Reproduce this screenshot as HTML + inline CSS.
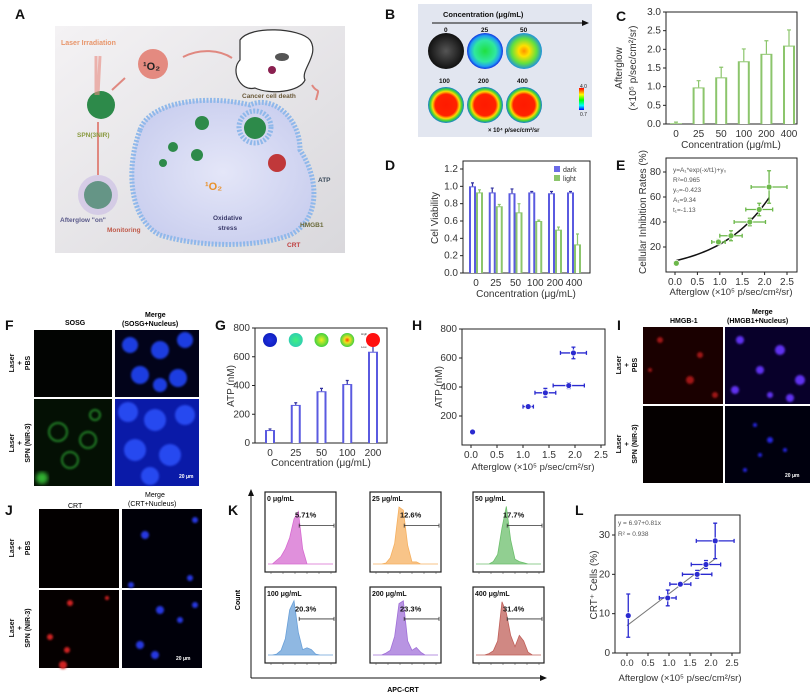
<!DOCTYPE html>
<html><head><meta charset="utf-8"><style>
html,body{margin:0;padding:0;background:#fff;}
svg{display:block;font-family:"Liberation Sans",Arial,sans-serif;}
</style></head><body>
<svg id="fig" width="812" height="697" viewBox="0 0 812 697" xmlns="http://www.w3.org/2000/svg">
<defs>
<filter id="blur2"><feGaussianBlur stdDeviation="2"/></filter>
<filter id="blur1"><feGaussianBlur stdDeviation="1"/></filter>
<linearGradient id="abg" x1="0" y1="0" x2="1" y2="1"><stop offset="0" stop-color="#f4f2f4"/><stop offset="1" stop-color="#d9d8dc"/></linearGradient>
<radialGradient id="hot" r="0.5"><stop offset="0" stop-color="#ff1a00"/><stop offset="0.6" stop-color="#ff2200"/><stop offset="0.75" stop-color="#ffd800"/><stop offset="0.88" stop-color="#3cd23c"/><stop offset="1" stop-color="#1a7ad8"/></radialGradient>
<radialGradient id="c25" r="0.5"><stop offset="0" stop-color="#20e040"/><stop offset="0.6" stop-color="#30e8a0"/><stop offset="0.85" stop-color="#20a0f0"/><stop offset="1" stop-color="#1030e0"/></radialGradient>
<radialGradient id="c50" r="0.5"><stop offset="0" stop-color="#ff9000"/><stop offset="0.3" stop-color="#ffe000"/><stop offset="0.7" stop-color="#60e040"/><stop offset="1" stop-color="#2090e0"/></radialGradient>
<radialGradient id="c0" r="0.5"><stop offset="0" stop-color="#555"/><stop offset="1" stop-color="#111"/></radialGradient>
<radialGradient id="g0" r="0.5"><stop offset="0" stop-color="#2030e0"/><stop offset="1" stop-color="#1020c0"/></radialGradient>
<radialGradient id="g1" r="0.5"><stop offset="0" stop-color="#40f080"/><stop offset="1" stop-color="#30d0b0"/></radialGradient>
<radialGradient id="g2" r="0.5"><stop offset="0" stop-color="#f0f020"/><stop offset="1" stop-color="#40d040"/></radialGradient>
<radialGradient id="g3" r="0.5"><stop offset="0" stop-color="#ff4000"/><stop offset="0.4" stop-color="#f0e020"/><stop offset="1" stop-color="#40d040"/></radialGradient>
<linearGradient id="cbar" x1="0" y1="0" x2="0" y2="1"><stop offset="0" stop-color="#f00"/><stop offset="0.3" stop-color="#ff0"/><stop offset="0.55" stop-color="#0f0"/><stop offset="0.8" stop-color="#0ff"/><stop offset="1" stop-color="#00f"/></linearGradient>
<radialGradient id="cellbg" r="0.6"><stop offset="0" stop-color="#e4e6f8"/><stop offset="1" stop-color="#c8cdee"/></radialGradient>
</defs>

<g font-weight="bold" font-size="14" fill="#111">
<text x="15" y="19">A</text><text x="385" y="19">B</text><text x="616" y="21">C</text>
<text x="385" y="170">D</text><text x="616" y="170">E</text>
<text x="5" y="330">F</text><text x="215" y="330">G</text><text x="412" y="330">H</text><text x="617" y="330">I</text>
<text x="5" y="515">J</text><text x="228" y="515">K</text><text x="575" y="515">L</text>
</g>

<g>
<rect x="55" y="26" width="290" height="227" fill="url(#abg)"/>
<path d="M140,130 C150,100 210,95 250,105 C270,95 300,115 300,150 C320,180 320,220 290,235 C250,250 190,245 160,235 C130,220 125,170 140,130Z" fill="url(#cellbg)" stroke="#8fb8ea" stroke-width="5" stroke-dasharray="2 1.5"/>
<circle cx="255" cy="127" r="16" fill="none" stroke="#8fb8ea" stroke-width="5" stroke-dasharray="2 1.5"/>
<circle cx="255" cy="128" r="11" fill="#2d8a4a"/>
<circle cx="101" cy="105" r="14" fill="#2d8a4a"/>
<circle cx="98" cy="195" r="14" fill="#2d8a4a"/>
<circle cx="98" cy="195" r="20" fill="#b9a6e0" opacity="0.4"/>
<circle cx="202" cy="123" r="7" fill="#2d8a4a"/><circle cx="173" cy="147" r="5" fill="#2d8a4a"/><circle cx="197" cy="155" r="6" fill="#2d8a4a"/><circle cx="163" cy="163" r="4" fill="#2d8a4a"/>
<circle cx="153" cy="64" r="15" fill="#e48a80"/>
<text x="143" y="70" font-size="11" font-weight="bold" fill="#222">¹O₂</text>
<circle cx="277" cy="163" r="9" fill="#c0383a"/>
<path d="M240,40 C250,25 300,28 310,40 C320,55 300,70 305,80 C300,92 270,95 255,88 C240,92 230,70 240,60Z" fill="#fff" stroke="#333" stroke-width="1.2"/>
<ellipse cx="282" cy="57" rx="7" ry="4" fill="#555"/><circle cx="272" cy="70" r="4" fill="#8a2050"/>
<path d="M100,56 L98,95 M96,56 L96,95" stroke="#e88a80" stroke-width="3" opacity="0.6"/>
<path d="M183,57 C200,48 220,50 232,58" stroke="#e08880" stroke-width="2" fill="none"/>
<path d="M112,90 L125,78" stroke="#e08880" stroke-width="2"/>
<path d="M98,122 L98,175" stroke="#e08880" stroke-width="2"/>
<path d="M316,100 C320,85 318,95 312,85" stroke="#e08880" stroke-width="2" fill="none"/>
<text x="61" y="45" font-size="7" font-weight="bold" fill="#e8956a">Laser Irradiation</text>
<text x="77" y="137" font-size="6.5" font-weight="bold" fill="#8a9a40">SPN(3NIR)</text>
<text x="60" y="222" font-size="6.5" font-weight="bold" fill="#5a5a8a">Afterglow "on"</text>
<text x="107" y="232" font-size="6.5" font-weight="bold" fill="#c05a4a">Monitoring</text>
<text x="242" y="98" font-size="6.5" font-weight="bold" fill="#6a5a3a">Cancer cell death</text>
<text x="205" y="190" font-size="11" font-weight="bold" fill="#e8902a">¹O₂</text>
<text x="213" y="220" font-size="6.5" font-weight="bold" fill="#3a3a6a">Oxidative</text>
<text x="218" y="230" font-size="6.5" font-weight="bold" fill="#3a3a6a">stress</text>
<text x="318" y="182" font-size="6.5" font-weight="bold" fill="#3a4a5a">ATP</text>
<text x="300" y="227" font-size="6.5" font-weight="bold" fill="#6a6a3a">HMGB1</text>
<text x="287" y="247" font-size="6.5" font-weight="bold" fill="#c04040">CRT</text>
</g>

<g>
<rect x="418" y="4" width="174" height="133" fill="#e2e6f0"/>
<text x="443" y="17" font-size="7.5" font-weight="bold" fill="#111">Concentration (μg/mL)</text>
<line x1="432" y1="23" x2="585" y2="23" stroke="#111"/>
<path d="M582,20 L589,23 L582,26Z" fill="#111"/>
<g font-size="6.5" font-weight="bold" fill="#111">
<text x="444" y="32">0</text><text x="481" y="32">25</text><text x="520" y="32">50</text>
<text x="439" y="83">100</text><text x="478" y="83">200</text><text x="517" y="83">400</text></g>
<circle cx="446" cy="51" r="18" fill="url(#c0)"/><circle cx="485" cy="51" r="18" fill="url(#c25)"/><circle cx="524" cy="51" r="18" fill="url(#c50)"/>
<circle cx="446" cy="105" r="18" fill="url(#hot)"/><circle cx="485" cy="105" r="18" fill="url(#hot)"/><circle cx="524" cy="105" r="18" fill="url(#hot)"/>
<rect x="579" y="88" width="5" height="22" fill="url(#cbar)"/>
<text x="580" y="88" font-size="5" fill="#222">4.0</text><text x="580" y="116" font-size="5" fill="#222">0.7</text>
<text x="488" y="132" font-size="6" font-weight="bold" fill="#111">× 10⁴ p/sec/cm²/sr</text>
</g>

<g>
<text x="65" y="325" font-size="7" font-weight="bold">SOSG</text>
<text x="145" y="317" font-size="7" font-weight="bold">Merge</text>
<text x="122" y="326" font-size="7" font-weight="bold">(SOSG+Nucleus)</text>
<rect x="34" y="330" width="78" height="67" fill="#020402"/>
<rect x="115" y="330" width="84" height="67" fill="#02031a"/>
<rect x="34" y="399" width="78" height="87" fill="#041004"/>
<rect x="115" y="399" width="84" height="87" fill="#0a1aa8"/>
<g fill="#1f3de0" filter="url(#blur1)"><circle cx="130" cy="345" r="8"/><circle cx="160" cy="350" r="9"/><circle cx="185" cy="340" r="8"/><circle cx="140" cy="375" r="9"/><circle cx="178" cy="378" r="9"/><circle cx="160" cy="385" r="7"/></g>
<g fill="#2848f0" filter="url(#blur1)"><circle cx="128" cy="412" r="10"/><circle cx="155" cy="420" r="11"/><circle cx="185" cy="415" r="10"/><circle cx="135" cy="450" r="11"/><circle cx="170" cy="455" r="11"/><circle cx="150" cy="476" r="9"/></g>
<g fill="none" stroke="#2aa030" stroke-width="2" filter="url(#blur1)" opacity="0.8"><circle cx="58" cy="432" r="9"/><circle cx="88" cy="440" r="8"/><circle cx="70" cy="460" r="8"/><circle cx="95" cy="415" r="5"/></g>
<circle cx="42" cy="478" r="6" fill="#30b030" filter="url(#blur2)"/>
<g font-size="7" font-weight="bold" fill="#111">
<text transform="translate(14,363) rotate(-90)" text-anchor="middle">Laser</text>
<text transform="translate(22,363) rotate(-90)" text-anchor="middle">+</text>
<text transform="translate(30,363) rotate(-90)" text-anchor="middle">PBS</text>
<text transform="translate(14,443) rotate(-90)" text-anchor="middle">Laser</text>
<text transform="translate(22,443) rotate(-90)" text-anchor="middle">+</text>
<text transform="translate(30,443) rotate(-90)" text-anchor="middle">SPN (NIR-3)</text></g>
<text x="179" y="478" font-size="5" font-weight="bold" fill="#fff">20 μm</text>
</g>

<g>
<text x="68" y="508" font-size="7">CRT</text>
<text x="145" y="497" font-size="7">Merge</text>
<text x="128" y="506" font-size="7">(CRT+Nucleus)</text>
<rect x="39" y="509" width="80" height="79" fill="#030000"/>
<rect x="122" y="509" width="80" height="79" fill="#000008"/>
<rect x="39" y="590" width="80" height="78" fill="#050000"/>
<rect x="122" y="590" width="80" height="78" fill="#00000a"/>
<g fill="#2838e0" filter="url(#blur1)"><circle cx="145" cy="535" r="4"/><circle cx="195" cy="520" r="3"/><circle cx="131" cy="585" r="3"/><circle cx="190" cy="578" r="3"/><circle cx="160" cy="610" r="4"/><circle cx="180" cy="620" r="3"/><circle cx="140" cy="645" r="4"/><circle cx="155" cy="655" r="4"/><circle cx="195" cy="605" r="3"/></g>
<g fill="#d02020" filter="url(#blur1)"><circle cx="70" cy="603" r="3"/><circle cx="50" cy="637" r="3"/><circle cx="67" cy="650" r="3"/><circle cx="63" cy="665" r="4"/><circle cx="107" cy="598" r="2"/></g>
<g font-size="7" font-weight="bold" fill="#111">
<text transform="translate(14,548) rotate(-90)" text-anchor="middle">Laser</text>
<text transform="translate(22,548) rotate(-90)" text-anchor="middle">+</text>
<text transform="translate(30,548) rotate(-90)" text-anchor="middle">PBS</text>
<text transform="translate(14,628) rotate(-90)" text-anchor="middle">Laser</text>
<text transform="translate(22,628) rotate(-90)" text-anchor="middle">+</text>
<text transform="translate(30,628) rotate(-90)" text-anchor="middle">SPN (NIR-3)</text></g>
<text x="176" y="660" font-size="5" font-weight="bold" fill="#fff">20 μm</text>
</g>

<g>
<text x="670" y="323" font-size="7" font-weight="bold">HMGB-1</text>
<text x="752" y="314" font-size="7" font-weight="bold">Merge</text>
<text x="727" y="323" font-size="7" font-weight="bold">(HMGB1+Nucleus)</text>
<rect x="643" y="327" width="80" height="77" fill="#1a0000"/>
<rect x="725" y="327" width="85" height="77" fill="#08002a"/>
<rect x="643" y="406" width="80" height="77" fill="#050000"/>
<rect x="725" y="406" width="85" height="77" fill="#00000e"/>
<g fill="#a01818" filter="url(#blur1)"><circle cx="660" cy="340" r="3"/><circle cx="700" cy="355" r="3"/><circle cx="690" cy="380" r="4"/><circle cx="715" cy="395" r="3"/><circle cx="650" cy="370" r="2"/></g>
<g fill="#6030f0" filter="url(#blur1)"><circle cx="740" cy="340" r="4"/><circle cx="780" cy="350" r="5"/><circle cx="760" cy="370" r="4"/><circle cx="800" cy="380" r="5"/><circle cx="735" cy="390" r="4"/><circle cx="790" cy="398" r="4"/><circle cx="770" cy="395" r="3"/></g>
<g fill="#2828e0" filter="url(#blur1)"><circle cx="755" cy="425" r="2"/><circle cx="770" cy="440" r="3"/><circle cx="760" cy="455" r="2"/><circle cx="785" cy="450" r="2"/><circle cx="745" cy="470" r="2"/></g>
<g font-size="7" font-weight="bold" fill="#111">
<text transform="translate(621,365) rotate(-90)" text-anchor="middle">Laser</text>
<text transform="translate(629,365) rotate(-90)" text-anchor="middle">+</text>
<text transform="translate(637,365) rotate(-90)" text-anchor="middle">PBS</text>
<text transform="translate(621,444) rotate(-90)" text-anchor="middle">Laser</text>
<text transform="translate(629,444) rotate(-90)" text-anchor="middle">+</text>
<text transform="translate(637,444) rotate(-90)" text-anchor="middle">SPN (NIR-3)</text></g>
<text x="785" y="477" font-size="5" font-weight="bold" fill="#fff">20 μm</text>
</g>

<g>
<line x1="251" y1="678" x2="251" y2="492" stroke="#111"/>
<path d="M248,496 L251,489 L254,496Z" fill="#111"/>
<line x1="251" y1="678" x2="542" y2="678" stroke="#111"/>
<path d="M540,675 L547,678 L540,681Z" fill="#111"/>
<text transform="translate(240,600) rotate(-90)" text-anchor="middle" font-size="7" font-weight="bold">Count</text>
<text x="403" y="692" text-anchor="middle" font-size="7" font-weight="bold">APC-CRT</text>
</g>
<g id="kgroup"></g>
</svg>
<script>
const cCats = ['0','25','50','100','200','400'];
const cVals = [0.02, 0.98, 1.25, 1.68, 1.88, 2.1];
const cErr = [0.03, 0.18, 0.27, 0.33, 0.35, 0.42];
const cTicks = [0, 0.5, 1.0, 1.5, 2.0, 2.5, 3.0];

const dCats = ['0','25','50','100','200','400'];
const dDark = [1.0, 0.93, 0.92, 0.93, 0.92, 0.93];
const dDarkErr = [0.04, 0.05, 0.05, 0.01, 0.02, 0.01];
const dLight = [0.93, 0.77, 0.70, 0.60, 0.50, 0.33];
const dLightErr = [0.03, 0.02, 0.10, 0.01, 0.03, 0.12];
const dTicks = [0, 0.2, 0.4, 0.6, 0.8, 1.0, 1.2];

const eX = [0.03, 0.97, 1.25, 1.67, 1.88, 2.1];
const eY = [7, 24, 29, 40, 50, 68];
const eXErr = [0.05, 0.15, 0.25, 0.35, 0.3, 0.4];
const eYErr = [1, 2, 4, 3, 5, 13];
const eFit = [9.34, -1.13, -0.423];
const eXTicks = [0, 0.5, 1.0, 1.5, 2.0, 2.5];
const eYTicks = [20, 40, 60, 80];

const gCats = ['0','25','50','100','200'];
const gVals = [90, 265, 360, 410, 635];
const gErr = [8, 15, 20, 25, 40];
const gTicks = [0, 200, 400, 600, 800];

const hX = [0.03, 1.1, 1.43, 1.88, 1.97];
const hY = [90, 265, 360, 410, 635];
const hXErr = [0.02, 0.1, 0.2, 0.3, 0.25];
const hYErr = [8, 15, 30, 20, 40];
const hXTicks = [0, 0.5, 1.0, 1.5, 2.0, 2.5];
const hYTicks = [200, 400, 600, 800];

const lX = [0.03, 0.97, 1.27, 1.67, 1.88, 2.1];
const lY = [9.5, 14, 17.5, 20, 22.5, 28.5];
const lXErr = [0.0, 0.2, 0.25, 0.35, 0.35, 0.45];
const lYErr = [5.5, 2, 0.5, 1, 1, 4.5];
const lFit = [6.97, 8.1];
const lXTicks = [0, 0.5, 1.0, 1.5, 2.0, 2.5];
const lYTicks = [0, 10, 20, 30];

const kLabels = ['0 μg/mL','25 μg/mL','50 μg/mL','100 μg/mL','200 μg/mL','400 μg/mL'];
const kPercents = ['5.71%','12.6%','17.7%','20.3%','23.3%','31.4%'];
const kHist0 = [0,0,1,2,4,7,12,14,4,0,0,0,0,0,0,0];
const kHist1 = [0,0,0,1,6,20,55,52,18,2,2,0,0,0,0,0];
const kHist2 = [0,0,0,0,2,8,30,48,20,4,2,1,0,0,0,0];
const kHist3 = [0,0,1,5,18,50,60,25,6,8,6,1,0,0,0,0];
const kHist4 = [0,0,0,2,5,20,55,58,15,5,8,3,0,0,0,0];
const kHist5 = [0,0,0,1,3,10,38,30,14,6,14,10,2,0,0,0];
const kMax = [16, 58, 50, 62, 60, 40];

const NS = 'http://www.w3.org/2000/svg';
const svg = document.getElementById('fig');
function el(tag, a, parent){const e=document.createElementNS(NS,tag);for(const k in a)e.setAttribute(k,a[k]);(parent||svg).appendChild(e);return e;}
function txt(x,y,s,a,parent){const t=el('text',Object.assign({x:x,y:y},a||{}),parent);t.textContent=s;return t;}
function lin(d0,d1,r0,r1){return v=>r0+(v-d0)/(d1-d0)*(r1-r0);}
function fmt(v,dec){return v.toFixed(dec);}

function frame(x0,y0,x1,y1,name){
  const r=el('rect',{x:x0,y:y0,width:x1-x0,height:y1-y0,fill:'none',stroke:'#222','stroke-width':1});
  
  
}
function yTicks(ticks,ys,x0,dec,fs){
  ticks.forEach(v=>{
    const l=el('line',{x1:x0-3,x2:x0,y1:ys(v),y2:ys(v),stroke:'#222'});
    
    
    const t=txt(x0-5,ys(v)+3,fmt(v,dec),{'font-size':fs||10,'text-anchor':'end',fill:'#333'});
    
    
  });
}
function xTicks(ticks,xs,y0,dec,fs){
  ticks.forEach(v=>{
    const l=el('line',{x1:xs(v),x2:xs(v),y1:y0,y2:y0+3,stroke:'#222'});
    
    
    const t=txt(xs(v),y0+13,fmt(v,dec),{'font-size':fs||10,'text-anchor':'middle',fill:'#333'});
    
    
  });
}
function xCats(cats,xc,y0,fs){
  cats.forEach((c,i)=>{
    const t=txt(xc(i),y0+13,c,{'font-size':fs||10,'text-anchor':'middle',fill:'#333'});
    
    
  });
}
function hollowBar(cx,w,ytop,ybot,col,name){
  const g=el('g',{});
  
  
  el('rect',{x:cx-w/2,y:ytop,width:w,height:ybot-ytop,fill:col},g);
  if(w>4) el('rect',{x:cx-w/2+2,y:ytop+1,width:w-4,height:Math.max(0,ybot-ytop-1),fill:'#fff'},g);
}
function errV(cx,y0,y1,col,cap){
  const l=el('path',{d:`M${cx},${y0}V${y1}M${cx-cap},${y1}H${cx+cap}`,stroke:col,'stroke-width':1.2,fill:'none'});
  
  
}
function xyPoint(xs,ys,x,y,xe,ye,col,r){
  const p=el('path',{d:`M${xs(x-xe)},${ys(y)}H${xs(x+xe)}M${xs(x-xe)},${ys(y)-2}V${ys(y)+2}M${xs(x+xe)},${ys(y)-2}V${ys(y)+2}M${xs(x)},${ys(y-ye)}V${ys(y+ye)}M${xs(x)-2},${ys(y-ye)}H${xs(x)+2}M${xs(x)-2},${ys(y+ye)}H${xs(x)+2}`,stroke:col,'stroke-width':1.3,fill:'none'});
  
  
  const c=el('circle',{cx:xs(x),cy:ys(y),r:r,fill:col,stroke:'#fff','stroke-width':0.8});
  
  
}
function rotLabel(x,y,s,fs,name){
  const t=el('text',{transform:`translate(${x},${y}) rotate(-90)`,'text-anchor':'middle','font-size':fs,fill:'#333'});
  t.textContent=s;
  
  
  return t;
}

(function(){
  const ys=lin(0,3,124,12);
  const xc=i=>676+i*(789-676)/5;
  frame(666,12,797,124,'chart-c-frame');
  yTicks(cTicks,ys,666,1,10);
  xCats(cCats,xc,124,10);
  cVals.forEach((v,i)=>{
    hollowBar(xc(i),12,ys(v),124,'#8cc56c','bar-afterglow');
    errV(xc(i),ys(v),ys(v+cErr[i]),'#8cc56c',2);
  });
  rotLabel(622,68,'Afterglow',10,'y-axis-title');
  rotLabel(636,68,'(×10⁵ p/sec/cm²/sr)',10,'y-axis-title-units');
  const t=txt(731,148,'Concentration (μg/mL)',{'font-size':10,'text-anchor':'middle',fill:'#333'});
  
  
})();

(function(){
  const ys=lin(0,1.2,273,169);
  const xc=i=>i<5?476+i*19.75:574;
  frame(463,161,590,273,'chart-d-frame');
  yTicks(dTicks,ys,463,1,10);
  xCats(dCats,xc,273,10);
  dDark.forEach((v,i)=>{
    hollowBar(xc(i)-3.5,7,ys(v),273,'#5a5ae0','bar-dark');
    errV(xc(i)-3.5,ys(v),ys(v+dDarkErr[i]),'#3030a0',1.5);
  });
  dLight.forEach((v,i)=>{
    hollowBar(xc(i)+3.5,7,ys(v),273,'#8cc56c','bar-light');
    errV(xc(i)+3.5,ys(v),ys(v+dLightErr[i]),'#8cc56c',1.5);
  });
  const lg=el('g',{});
  
  
  el('rect',{x:554,y:166,width:6,height:6,fill:'#6a6ae8'},lg);
  txt(563,172,'dark',{'font-size':7,fill:'#333'},lg);
  el('rect',{x:554,y:175,width:6,height:6,fill:'#8cc56c'},lg);
  txt(563,181,'light',{'font-size':7,fill:'#333'},lg);
  rotLabel(438,218,'Cel Viability',10,'y-axis-title');
  const t=txt(526,297,'Concentration (μg/mL)',{'font-size':10,'text-anchor':'middle',fill:'#333'});
  
  
})();

(function(){
  const xs=lin(0,2.5,675,787), ys=lin(0,80,272,172);
  frame(666,158,797,272,'chart-e-frame');
  yTicks(eYTicks,ys,666,0,10);
  xTicks(eXTicks,xs,272,1,10);
  let d='';
  for(let k=0;k<=40;k++){const x=eX[0]+(eX[eX.length-1]-eX[0])*k/40;const y=eFit[0]*Math.exp(-x/eFit[1])+eFit[2];d+=(k?'L':'M')+xs(x)+','+ys(y);}
  const p=el('path',{d:d,stroke:'#111','stroke-width':1.5,fill:'none'});
  
  
  eX.forEach((x,i)=>xyPoint(xs,ys,x,eY[i],eXErr[i],eYErr[i],'#6cb84a',3));
  const lines=['y=A₁*exp(-x/t1)+y₀','R²=0.965','y₀=-0.423','A₁=9.34','t₁=-1.13'];
  lines.forEach((s,i)=>{const t=txt(673,172+i*10,s,{'font-size':6.5,fill:'#555'});
    
    });
  rotLabel(646,212,'Cellular Inhibition Rates (%)',10,'y-axis-title');
  const t=txt(731,295,'Afterglow (×10⁵ p/sec/cm²/sr)',{'font-size':9.5,'text-anchor':'middle',fill:'#333'});
  
  
})();

(function(){
  const ys=lin(0,800,443,328);
  const xc=i=>270+i*25.75;
  frame(255,328,387,443,'chart-g-frame');
  yTicks(gTicks,ys,255,0,10);
  xCats(gCats,xc,443,10);
  gVals.forEach((v,i)=>{
    hollowBar(xc(i),10,ys(v),443,'#5a5ae0','bar-atp');
    errV(xc(i),ys(v),ys(v+gErr[i]),'#3030a0',1.5);
  });
  const fills=['url(#g0)','url(#g1)','url(#g2)','url(#g3)','#ff1010'];
  fills.forEach((f,i)=>{const c=el('circle',{cx:xc(i),cy:340,r:7,fill:f});
    
    });
  txt(361,335,'High',{'font-size':3,fill:'#333'});
  txt(361,348,'Low',{'font-size':3,fill:'#333'});
  rotLabel(234,386,'ATP (nM)',10,'y-axis-title');
  const t=txt(321,466,'Concentration (μg/mL)',{'font-size':10,'text-anchor':'middle',fill:'#333'});
  
  
})();

(function(){
  const xs=lin(0,2.5,471,601), ys=lin(0,800,445,329);
  frame(462,329,605,445,'chart-h-frame');
  yTicks(hYTicks,ys,462,0,10);
  xTicks(hXTicks,xs,445,1,10);
  hX.forEach((x,i)=>xyPoint(xs,ys,x,hY[i],hXErr[i],hYErr[i],'#2a2ad0',3));
  rotLabel(442,387,'ATP (nM)',10,'y-axis-title');
  const t=txt(533,470,'Afterglow (×10⁵ p/sec/cm²/sr)',{'font-size':9.5,'text-anchor':'middle',fill:'#333'});
  
  
})();

(function(){
  const xs=lin(0,2.5,627,732), ys=lin(0,30,653,535);
  frame(615,515,740,653,'chart-l-frame');
  yTicks(lYTicks,ys,615,0,10);
  xTicks(lXTicks,xs,653,1,9.5);
  const p=el('line',{x1:xs(0),y1:ys(lFit[0]),x2:xs(2.1),y2:ys(lFit[0]+lFit[1]*2.1),stroke:'#777','stroke-width':1});
  
  
  lX.forEach((x,i)=>xyPoint(xs,ys,x,lY[i],lXErr[i],lYErr[i],'#2a2ad0',3));
  const t1=txt(618,525,'y = 6.97+0.81x',{'font-size':6.5,fill:'#555'});
  
  
  const t2=txt(618,536,'R² = 0.938',{'font-size':6.5,fill:'#555'});
  
  
  rotLabel(597,585,'CRT⁺ Cells (%)',10,'y-axis-title');
  const t=txt(680,681,'Afterglow (×10⁵ p/sec/cm²/sr)',{'font-size':9.5,'text-anchor':'middle',fill:'#333'});
  
  
})();

(function(){
  const hists=[kHist0,kHist1,kHist2,kHist3,kHist4,kHist5];
  const cols=['#d66bd0','#f5b060','#6cbf6c','#6aa0d8','#a070d8','#c0605a'];
  const boxX=[265,370,473];
  const boxY=[492,587];
  const W=71, H=[80,76];
  const kg=document.getElementById('kgroup');
  hists.forEach((h,i)=>{
    const bx=boxX[i%3], by=boxY[Math.floor(i/3)], bh=H[Math.floor(i/3)];
    const plotTop=by+12, plotBot=by+bh-8;
    const xs=lin(0,h.length-1,bx+3,bx+W-3), ys=lin(0,kMax[i],plotBot,plotTop);
    const g=el('g',{},kg);
    
    
    el('rect',{x:bx,y:by,width:W,height:bh,fill:'#fff',stroke:'#222','stroke-width':1.2},g);
    let d='M'+xs(0)+','+plotBot;
    h.forEach((v,k)=>{d+='L'+xs(k)+','+ys(v);});
    d+='L'+xs(h.length-1)+','+plotBot+'Z';
    const p=el('path',{d:d,fill:cols[i],'fill-opacity':0.75,stroke:cols[i],'stroke-width':0.8},g);
    
    
    const gx0=xs(7.2), gx1=bx+W-2, gy=by+bh*0.42;
    const gate=el('path',{d:`M${gx0},${gy}H${gx1}M${gx0},${gy-2}V${gy+2}M${gx1},${gy-2}V${gy+2}`,stroke:'#333','stroke-width':0.8,fill:'none'},g);
    
    
    const lab=txt(bx+2,by+9,kLabels[i],{'font-size':7,'font-weight':'bold',fill:'#111'},g);
    
    
    const pc=txt(bx+30,by+bh*0.32,kPercents[i],{'font-size':7.5,'font-weight':'bold',fill:'#111'},g);
    
    
    for(let k=0;k<6;k++){el('line',{x1:bx+6+k*12,x2:bx+6+k*12,y1:by+bh,y2:by+bh+2,stroke:'#444','stroke-width':0.5},g);}
  });
})();
</script>
</body></html>
